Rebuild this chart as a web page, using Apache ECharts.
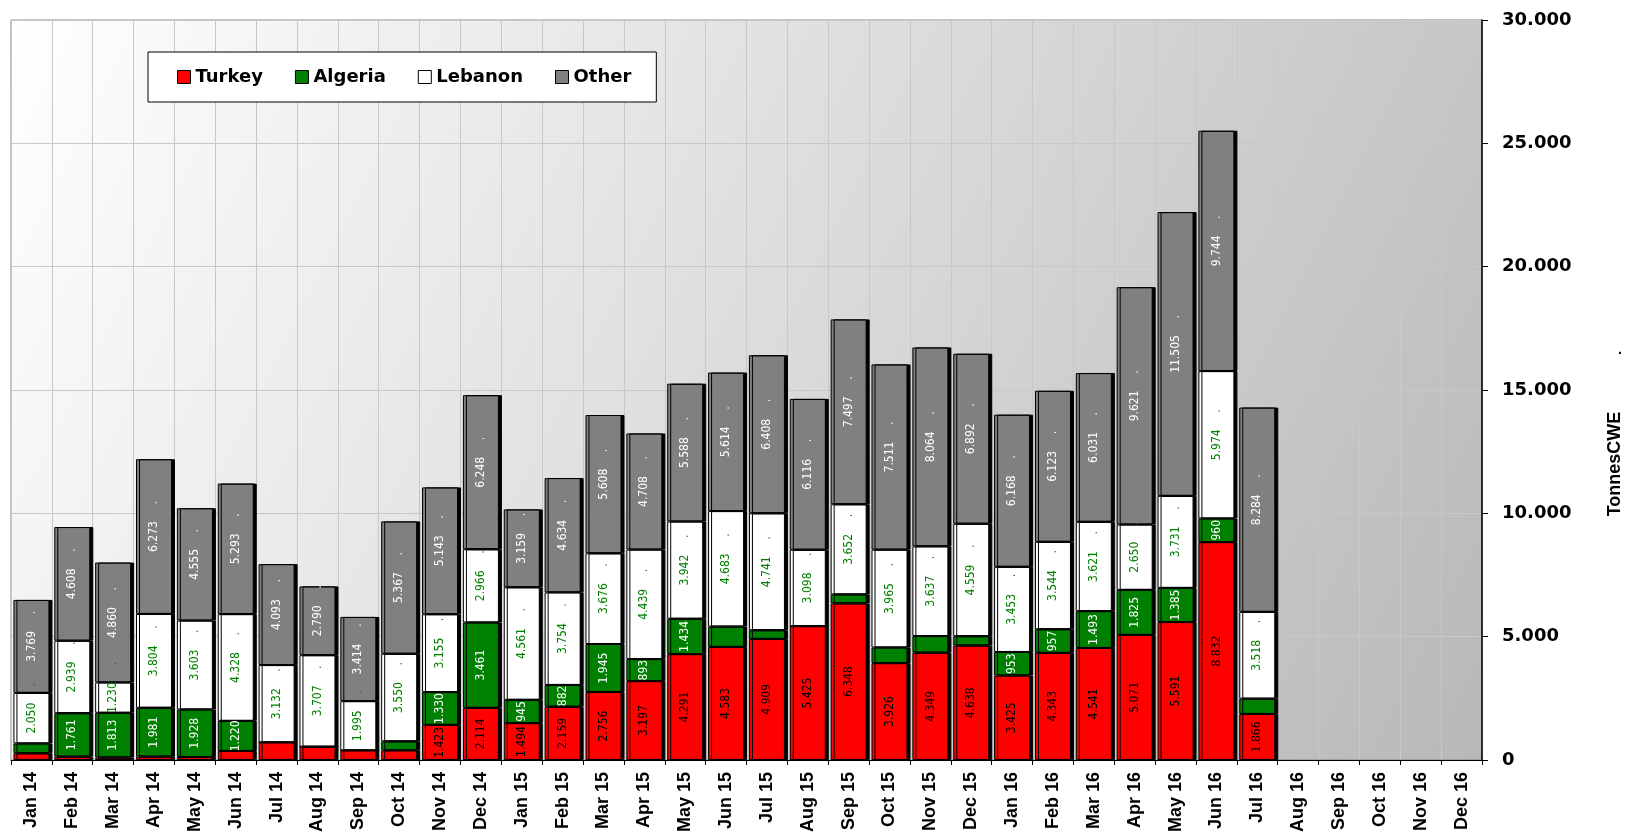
<!DOCTYPE html>
<html>
<head>
<meta charset="utf-8">
<script src="https://cdn.jsdelivr.net/npm/echarts@6/dist/echarts.min.js"></script>
<style>
  html, body { margin: 0; padding: 0; background: #fff; }
  #chart { width: 1628px; height: 835px; }
</style>
</head>
<body>
<div id="chart"></div>
<script>
var months = [
  'Jan 14', 'Feb 14', 'Mar 14', 'Apr 14', 'May 14', 'Jun 14', 'Jul 14', 'Aug 14', 'Sep 14', 'Oct 14', 'Nov 14', 'Dec 14',
  'Jan 15', 'Feb 15', 'Mar 15', 'Apr 15', 'May 15', 'Jun 15', 'Jul 15', 'Aug 15', 'Sep 15', 'Oct 15', 'Nov 15', 'Dec 15',
  'Jan 16', 'Feb 16', 'Mar 16', 'Apr 16', 'May 16', 'Jun 16', 'Jul 16', 'Aug 16', 'Sep 16', 'Oct 16', 'Nov 16', 'Dec 16'
]
var turkey = [
  270, 135, 100, 135, 120, 365, 715, 540, 390, 390, 1423, 2114,
  1494, 2159, 2756, 3197, 4291, 4583, 4909, 5425, 6348, 3926, 4349, 4638,
  3425, 4343, 4541, 5071, 5591, 8832, 1866, null, null, null, null, null
]
var algeria = [
  400, 1761, 1813, 1981, 1928, 1220, 0, 0, 0, 365, 1330, 3461,
  945, 882, 1945, 893, 1434, 825, 350, 0, 365, 635, 675, 380,
  953, 957, 1493, 1825, 1385, 960, 620, null, null, null, null, null
]
var lebanon = [
  2050, 2939, 1230, 3804, 3603, 4328, 3132, 3707, 1995, 3550, 3155, 2966,
  4561, 3754, 3676, 4439, 3942, 4683, 4741, 3098, 3652, 3965, 3637, 4559,
  3453, 3544, 3621, 2650, 3731, 5974, 3518, null, null, null, null, null
]
var other = [
  3769, 4608, 4860, 6273, 4555, 5293, 4093, 2790, 3414, 5367, 5143, 6248,
  3159, 4634, 5608, 4708, 5588, 5614, 6408, 6116, 7497, 7511, 8064, 6892,
  6168, 6123, 6031, 9621, 11505, 9744, 8284, null, null, null, null, null
]
var yTicks = [0, 5000, 10000, 15000, 20000, 25000, 30000]

function fmt (v) {
  return Math.round(v).toString().replace(/\B(?=(\d{3})+(?!\d))/g, '.')
}

function makeLabel (color, minShow, withDot) {
  return {
    show: true,
    position: 'inside',
    rotate: 90,
    color: color,
    fontFamily: 'DejaVu Sans Condensed, DejaVu Sans',
    fontSize: 12,
    formatter: function (p) {
      if (p.value == null || p.value < minShow) return ''
      if (!withDot) return fmt(p.value)
      return '{s| }{v|' + fmt(p.value) + '}{d|.}'
    },
    rich: {
      s: { width: 20 },
      v: { color: color, fontSize: 12, fontFamily: 'DejaVu Sans Condensed, DejaVu Sans' },
      d: { width: 20, align: 'right', color: color, fontSize: 12 }
    }
  }
}

function makeSeries (name, data, color, label) {
  return {
    name: name,
    type: 'bar',
    stack: 'total',
    barWidth: 36,
    data: data,
    label: label,
    itemStyle: {
      color: color,
      borderColor: '#000',
      borderWidth: 1,
      shadowColor: '#000',
      shadowOffsetX: 3,
      shadowOffsetY: 0,
      shadowBlur: 0
    },
    emphasis: { disabled: true }
  }
}

var myChart = echarts.init(document.getElementById('chart'))
myChart.setOption({
  animation: false,
  grid: {
    left: 11,
    right: 146,
    top: 20,
    bottom: 75,
    show: true,
    borderColor: '#888',
    borderWidth: 1,
    backgroundColor: new echarts.graphic.LinearGradient(0, 0, 1, 1, [
      { offset: 0, color: '#ffffff' },
      { offset: 1, color: '#b8b8b8' }
    ])
  },
  legend: {
    left: 148,
    top: 52,
    icon: 'rect',
    itemWidth: 13,
    itemHeight: 13,
    itemGap: 32,
    padding: [16, 25, 16, 29],
    backgroundColor: '#fff',
    borderColor: '#000',
    borderWidth: 1,
    itemStyle: { borderColor: '#000', borderWidth: 1 },
    textStyle: { fontFamily: 'DejaVu Sans', fontWeight: 'bold', fontSize: 18, color: '#000' },
    data: ['Turkey', 'Algeria', 'Lebanon', 'Other']
  },
  xAxis: {
    type: 'category',
    data: months,
    axisLine: { lineStyle: { color: '#000', width: 1 } },
    axisTick: { show: true, interval: 0, length: 5, lineStyle: { color: '#000' } },
    axisLabel: {
      interval: 0,
      rotate: 90,
      margin: 12,
      color: '#000',
      fontFamily: 'Liberation Sans, Arial',
      fontWeight: 'bold',
      fontSize: 18
    },
    splitLine: { show: true, interval: 0, lineStyle: { color: '#c8c8c8' } }
  },
  yAxis: {
    type: 'value',
    position: 'right',
    min: yTicks[0],
    max: yTicks[yTicks.length - 1],
    interval: 5000,
    axisLine: { show: true, lineStyle: { color: '#000', width: 1.5 } },
    axisTick: { show: true, length: 6, lineStyle: { color: '#000' } },
    axisLabel: {
      margin: 20,
      color: '#000',
      fontFamily: 'DejaVu Sans',
      fontWeight: 'bold',
      fontSize: 18,
      formatter: function (v) { return fmt(v) }
    },
    splitLine: { lineStyle: { color: '#c8c8c8' } }
  },
  graphic: [
    {
      type: 'text',
      x: 1615,
      y: 464,
      rotation: Math.PI / 2,
      style: {
        text: 'TonnesCWE',
        align: 'center',
        verticalAlign: 'middle',
        fontFamily: 'Liberation Sans, Arial',
        fontWeight: 'bold',
        fontSize: 18,
        fill: '#000'
      }
    },
    {
      type: 'text',
      x: 1620,
      y: 350,
      style: { text: '.', align: 'center', verticalAlign: 'middle', fontSize: 14, fontWeight: 'bold', fill: '#000' }
    }
  ],
  series: [
    makeSeries('Turkey', turkey, '#ff0000', makeLabel('#000', 1000, false)),
    makeSeries('Algeria', algeria, '#008000', makeLabel('#fff', 870, false)),
    makeSeries('Lebanon', lebanon, '#ffffff', makeLabel('#008000', 500, true)),
    makeSeries('Other', other, '#808080', makeLabel('#fff', 500, true))
  ]
})
window.addEventListener('resize', function () {
  myChart.resize()
})
</script>
</body>
</html>
